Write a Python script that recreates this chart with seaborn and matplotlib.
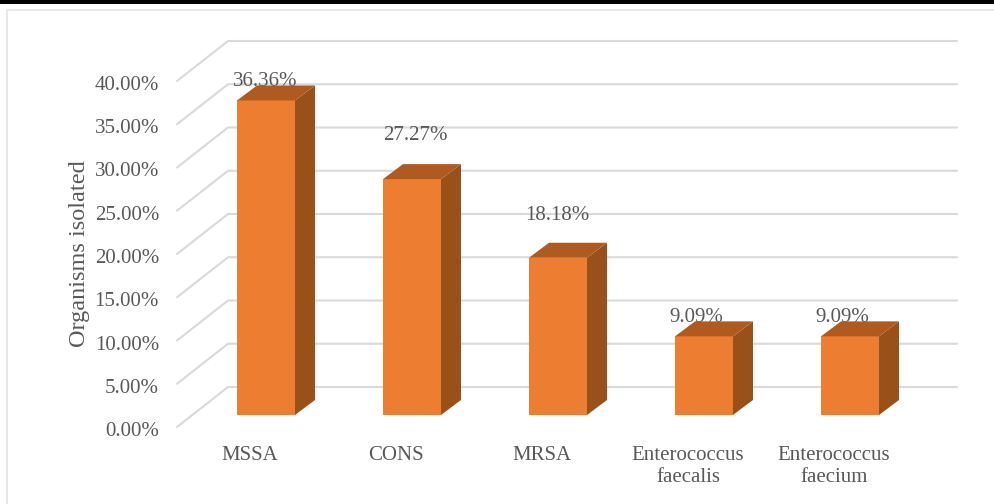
import matplotlib
matplotlib.use("Agg")
import matplotlib.pyplot as plt
from matplotlib.lines import Line2D
from matplotlib.patches import Polygon, Rectangle
from matplotlib.ticker import FuncFormatter, MultipleLocator
from matplotlib.transforms import ScaledTranslation
import seaborn as sns

# Data
organisms = ["MSSA", "CONS", "MRSA", "Enterococcus\nfaecalis", "Enterococcus\nfaecium"]
isolated = [36.36, 27.27, 18.18, 9.09, 9.09]
y_label = "Organisms isolated"

# Style
W, H, DPI = 995, 504, 100
FONT = "Liberation Serif"
TXT = "#595959"
GRID = "#D9D9D9"
FRONT, SIDE, TOP = "#ED7D31", "#9A5019", "#AE5A21"
label_offsets = [(-1, 19), (3, 44), (-1, 42), (-8, 19), (-8, 19)]  # px from bar top centre

sns.set_theme(style="white")
plt.rcParams["font.family"] = [FONT, "DejaVu Serif"]

fig = plt.figure(figsize=(W / DPI, H / DPI), dpi=DPI, facecolor="white")
L, R, Y0, Y40 = 177, 957, 427, 81
ax = fig.add_axes([L / W, 1 - Y0 / H, (R - L) / W, (Y0 - Y40) / H])
ax.patch.set_alpha(0)

PX_X = 146.0                    # px per category
PX_Y = (Y0 - Y40) / 40.0        # px per percent
x_left = -(266 - L) / PX_X
x_right = (R - 266) / PX_X
ax.set_xlim(x_left, x_right)
ax.set_ylim(0, 40)

# Back wall gridlines with receding floor segment
wall_dx, wall_dy = 51 / PX_X, 40 / PX_Y
for v in range(0, 45, 5):
    ax.plot([x_left, x_left + wall_dx, x_right],
            [v, v + wall_dy, v + wall_dy],
            color=GRID, lw=1.5, clip_on=False, zorder=1, solid_joinstyle="miter")

# Bars: front face through seaborn, raised to the front plane of the floor
base = 12 / PX_Y
sns.barplot(x=organisms, y=isolated, bottom=base, width=58 / PX_X, color=FRONT,
            saturation=1, ax=ax, zorder=3, linewidth=0, native_scale=False)
ax.set_xlim(x_left, x_right)
ax.set_ylim(0, 40)

bar_dx, bar_dy = 20 / PX_X, 15 / PX_Y
for patch, val, (ox, oy) in zip(ax.patches, isolated, label_offsets):
    x0, x1 = patch.get_x(), patch.get_x() + patch.get_width()
    y0, y1 = patch.get_y(), patch.get_y() + patch.get_height()
    ax.add_patch(Polygon([(x1, y0), (x1 + bar_dx, y0 + bar_dy),
                          (x1 + bar_dx, y1 + bar_dy), (x1, y1)],
                         closed=True, fc=SIDE, ec="none", zorder=3, clip_on=False))
    ax.add_patch(Polygon([(x0, y1), (x0 + bar_dx, y1 + bar_dy),
                          (x1 + bar_dx, y1 + bar_dy), (x1, y1)],
                         closed=True, fc=TOP, ec="none", zorder=3, clip_on=False))
    ax.annotate(f"{val:.2f}%", xy=((x0 + x1) / 2, y1), xycoords="data",
                xytext=(ox * 72 / DPI, oy * 72 / DPI), textcoords="offset points",
                ha="center", va="center", fontsize=15, color=TXT, zorder=2,
                annotation_clip=False)

# Axes furniture
sns.despine(ax=ax, left=True, bottom=True, right=True, top=True)
ax.yaxis.set_major_locator(MultipleLocator(5))
ax.yaxis.set_major_formatter(FuncFormatter(lambda v, _: f"{v:.2f}%"))
ax.tick_params(axis="y", length=0, pad=18 * 72 / DPI, labelsize=15, labelcolor=TXT)
ax.tick_params(axis="x", length=0, pad=19 * 72 / DPI, labelsize=15, labelcolor=TXT)
ax.grid(False)
ax.set_ylabel("")
fig.canvas.draw()

shift_x = ScaledTranslation(-16 / DPI, 0, fig.dpi_scale_trans)
for lab in ax.get_xticklabels():
    lab.set_transform(lab.get_transform() + shift_x)
    lab.set_linespacing(1.22)
shift_y = ScaledTranslation(0, -2 / DPI, fig.dpi_scale_trans)
for lab in ax.get_yticklabels():
    lab.set_transform(lab.get_transform() + shift_y)

fig.text(79 / W, 1 - 254 / H, y_label, rotation=90, ha="center", va="center",
         fontsize=17.5, color=TXT)

# Picture frame and top band
fig.add_artist(Line2D([7.5 / W, 7.5 / W, 1], [0, 1 - 9.5 / H, 1 - 9.5 / H],
                      color="#E8E8E8", lw=1.5))
fig.add_artist(Rectangle((0, 1 - 4 / H), 1, 4 / H, transform=fig.transFigure,
                         fc="black", ec="none"))

fig.savefig("out.png", dpi=DPI, facecolor="white")
